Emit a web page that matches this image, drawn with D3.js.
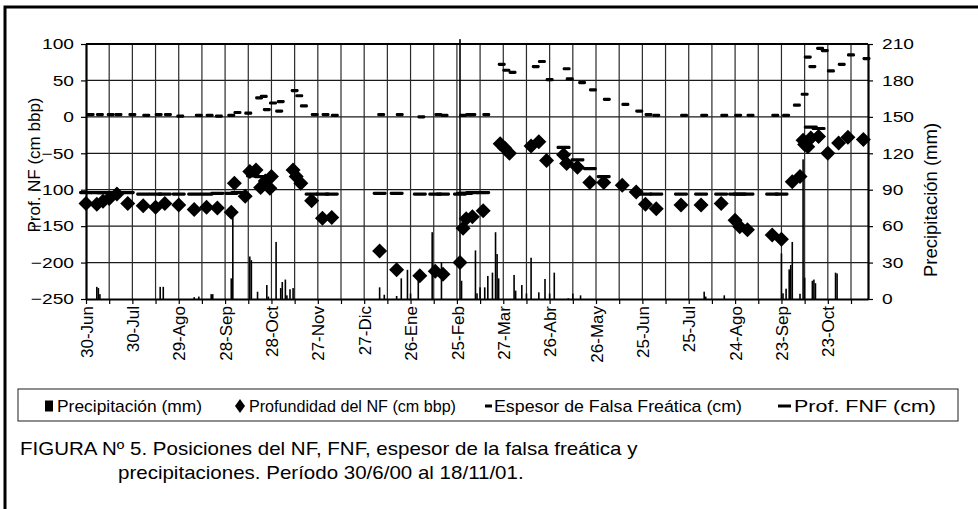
<!DOCTYPE html>
<html><head><meta charset="utf-8">
<script src="https://cdn.jsdelivr.net/npm/d3@7"></script>
<style>
body{margin:0;background:#fff}
svg{display:block;font-family:"Liberation Sans",Arial,sans-serif}
</style>
</head><body>
<svg id="chart" width="978" height="509"></svg>
<script>
// ---------- DATA ----------
const xTickLabels = ["30-Jun","30-Jul","29-Ago","28-Sep","28-Oct","27-Nov","27-Dic","26-Ene","25-Feb","27-Mar","26-Abr","26-May","25-Jun","25-Jul","24-Ago","23-Sep","23-Oct"];
const leftTicks = [100,50,0,-50,-100,-150,-200,-250];
const rightTicks = [210,180,150,120,90,60,30,0];

const precipDates = ["2000-07-07","2000-07-08","2000-07-09","2000-08-17","2000-08-19","2000-09-08","2000-09-11","2000-09-19","2000-09-20","2000-10-02","2000-10-03","2000-10-14","2000-10-15","2000-10-19","2000-10-25","2000-10-26","2000-10-31","2000-11-03","2000-11-04","2000-11-06","2000-11-07","2000-11-09","2000-11-11","2001-01-06","2001-01-09","2001-01-17","2001-01-20","2001-01-24","2001-01-26","2001-01-31","2001-02-09","2001-02-15","2001-02-27","2001-02-28","2001-03-09","2001-03-10","2001-03-12","2001-03-15","2001-03-17","2001-03-20","2001-03-22","2001-03-23","2001-03-24","2001-04-03","2001-04-04","2001-04-08","2001-04-11","2001-04-14","2001-04-19","2001-04-23","2001-04-26","2001-04-29","2001-05-08","2001-05-11","2001-05-16","2001-08-04","2001-08-05","2001-08-17","2001-09-23","2001-09-24","2001-09-26","2001-09-28","2001-09-29","2001-09-30","2001-10-05","2001-10-07","2001-10-08","2001-10-13","2001-10-14","2001-10-15","2001-10-28","2001-10-29"];
const precipValues = [10,9,4,10,10,1.5,2,4,4,17,72,35,32,6,11.5,2,47,9,14,16,3,8,9,9.6,3.5,2.5,17,24,4.5,15.6,55,30.5,214,15,40,4.7,9.6,9.6,19,21.7,55,37,17,19.8,6.9,11.5,4.5,34,5.5,16.5,4.5,21.7,0.6,4.5,3,6,2,3,37.5,4.7,8.5,24.4,28,47,4.3,115,17.5,15,16,13,21.7,21];

const nfDates = ["2000-06-30","2000-07-07","2000-07-11","2000-07-15","2000-07-20","2000-07-27","2000-08-06","2000-08-14","2000-08-20","2000-08-29","2000-09-08","2000-09-16","2000-09-23","2000-10-02","2000-10-04","2000-10-11","2000-10-14","2000-10-18","2000-10-21","2000-10-24","2000-10-27","2000-10-28","2000-11-11","2000-11-13","2000-11-16","2000-11-23","2000-11-30","2000-12-06","2001-01-06","2001-01-17","2001-02-01","2001-02-11","2001-02-16","2001-02-27","2001-03-01","2001-03-03","2001-03-07","2001-03-14","2001-03-25","2001-03-28","2001-03-31","2001-04-14","2001-04-19","2001-04-24","2001-05-05","2001-05-07","2001-05-14","2001-05-22","2001-05-31","2001-06-12","2001-06-21","2001-06-27","2001-07-04","2001-07-20","2001-08-02","2001-08-15","2001-08-24","2001-08-27","2001-09-01","2001-09-17","2001-09-23","2001-09-30","2001-10-05","2001-10-07","2001-10-08","2001-10-10","2001-10-12","2001-10-17","2001-10-23","2001-10-30","2001-11-05","2001-11-15"];
const nfValues = [-119,-120,-116,-112,-106,-119,-122,-124,-119,-121,-127,-124,-125,-131,-91,-109,-75,-73,-97,-88,-98,-82,-73,-82,-91,-115,-139,-138,-184,-210,-218,-212,-216,-200,-153,-140,-137,-129,-37,-43,-50,-40,-34,-60,-52,-64,-69,-90,-90,-94,-103,-120,-126,-121,-121,-119,-142,-151,-155,-162,-168,-89,-82,-32,-38,-41,-29,-27,-50,-36,-28,-31];

const espesorDates = ["2000-07-03","2000-07-09","2000-07-16","2000-07-21","2000-07-30","2000-08-08","2000-08-16","2000-08-22","2000-08-30","2000-09-11","2000-09-18","2000-09-24","2000-10-02","2000-10-06","2000-10-13","2000-10-20","2000-10-23","2000-10-25","2000-10-29","2000-11-02","2000-11-03","2000-11-12","2000-11-15","2000-11-18","2000-11-25","2000-12-02","2000-12-08","2001-01-07","2001-01-19","2001-02-02","2001-02-13","2001-02-17","2001-03-01","2001-03-05","2001-03-07","2001-03-16","2001-03-26","2001-03-29","2001-04-02","2001-04-17","2001-04-21","2001-04-26","2001-05-07","2001-05-09","2001-05-17","2001-05-24","2001-06-02","2001-06-14","2001-06-23","2001-06-29","2001-07-04","2001-07-22","2001-08-04","2001-08-17","2001-08-26","2001-09-03","2001-09-19","2001-09-26","2001-10-03","2001-10-08","2001-10-10","2001-10-13","2001-10-18","2001-10-21","2001-10-25","2001-11-01","2001-11-07","2001-11-17"];
const espesorValues = [3,3,3,3,3,2,3,3,1,2,2,1,2,6,5,26,28,10,19,8,21,36,29,15,3,3,2,3,3,0,3,2,2,3,3,3,72,64,61,69,76,51,66,52,47,37,24,17,8,3,2,2,2,2,2,2,2,2,16,31,82,69,94,91,63,72,85,80];

const fnfDates = ["2000-06-30","2000-07-07","2000-07-11","2000-07-15","2000-07-20","2000-07-27","2000-08-06","2000-08-14","2000-08-20","2000-08-29","2000-09-08","2000-09-16","2000-09-23","2000-10-02","2000-10-06","2000-10-16","2000-10-21","2000-11-23","2000-11-30","2000-12-06","2001-01-06","2001-01-17","2001-02-01","2001-02-11","2001-02-16","2001-02-27","2001-03-01","2001-03-03","2001-03-07","2001-03-14","2001-05-05","2001-05-14","2001-05-22","2001-05-31","2001-06-27","2001-07-04","2001-07-20","2001-08-02","2001-08-15","2001-08-24","2001-08-27","2001-09-01","2001-09-17","2001-09-23","2001-10-12","2001-10-17"];
const fnfValues = [-104,-104,-104,-104,-104,-104,-106,-106,-106,-106,-106,-106,-105,-105,-104,-81,-82,-106,-106,-106,-105,-105,-106,-106,-106,-106,-105,-105,-104,-104,-42,-59,-71,-82,-106,-106,-106,-106,-106,-106,-106,-106,-106,-106,-14,-16];

const legendLabels = ["Precipitación (mm)","Profundidad del NF (cm bbp)","Espesor de Falsa Freática (cm)","Prof. FNF (cm)"];
const captionLines = ["FIGURA Nº 5. Posiciones del NF, FNF, espesor de la falsa freática y","precipitaciones. Período 30/6/00 al 18/11/01."];

// ---------- CHART ----------
const svg = d3.select("#chart");
const parse = d3.utcParse("%Y-%m-%d");
const P = {l:86, r:868, t:44, b:299};
const startDate = parse("2000-06-30"), endDate = parse("2001-11-18");

const x = d3.scaleUtc().domain([startDate, endDate]).range([P.l, P.r]);
const yL = d3.scaleLinear().domain([-250, 100]).range([P.b, P.t]);
const yR = d3.scaleLinear().domain([0, 210]).range([P.b, P.t]);

const xTickDates = d3.range(0, 34).map(i => d3.utcDay.offset(startDate, 15 * i));
const SX = 1.28; // horizontal stretch of the original picture's text

svg.append("rect").attr("width",978).attr("height",509).attr("fill","#fff");

// outer frame
svg.append("path").attr("d","M5,509V7H978").attr("fill","none").attr("stroke","#000").attr("stroke-width",3);

// gridlines
const grid = svg.append("g");
grid.selectAll(".hg").data(leftTicks.filter(v => v > -250 && v < 100)).join("line")
  .attr("x1",P.l).attr("x2",P.r).attr("y1",d=>yL(d)).attr("y2",d=>yL(d))
  .attr("stroke","#1a1a1a").attr("stroke-width",1.2);
grid.selectAll(".vg").data(xTickDates.slice(1)).join("line")
  .attr("x1",d=>x(d)).attr("x2",d=>x(d)).attr("y1",P.t).attr("y2",P.b)
  .attr("stroke","#2a2a2a").attr("stroke-width",1.2);

// precipitation bars
const precip = precipDates.map((d,i)=>({date:parse(d), v:precipValues[i]}));
svg.append("g").selectAll("rect").data(precip).join("rect")
  .attr("x", d => x(d.date) - 0.8).attr("width", 1.6)
  .attr("y", d => yR(d.v)).attr("height", d => yR(0) - yR(d.v))
  .attr("fill","#000");

// NF diamonds
const nf = nfDates.map((d,i)=>({date:parse(d), v:nfValues[i]}));
svg.append("g").selectAll("path").data(nf).join("path")
  .attr("d", d => { const cx = x(d.date), cy = yL(d.v); return `M${cx},${cy-7.5}L${cx+7.5},${cy}L${cx},${cy+7.5}L${cx-7.5},${cy}Z`; })
  .attr("fill","#000");

// Espesor short dashes
const esp = espesorDates.map((d,i)=>({date:parse(d), v:espesorValues[i]}));
svg.append("g").selectAll("rect").data(esp).join("rect")
  .attr("x", d => x(d.date) - 4).attr("width", 8)
  .attr("y", d => yL(d.v) - 1.6).attr("height", 3.2).attr("rx",1.4)
  .attr("fill","#000");

// Prof FNF long dashes
const fnf = fnfDates.map((d,i)=>({date:parse(d), v:fnfValues[i]}));
svg.append("g").selectAll("rect").data(fnf).join("rect")
  .attr("x", d => x(d.date) - 7).attr("width", 14)
  .attr("y", d => yL(d.v) - 1.6).attr("height", 3.2).attr("rx",1.4)
  .attr("fill","#000");

// axes
const axL = svg.append("g").attr("transform",`translate(${P.l},0)`)
  .call(d3.axisLeft(yL).tickValues(leftTicks).tickSize(5).tickSizeOuter(0));
const axR = svg.append("g").attr("transform",`translate(${P.r},0)`)
  .call(d3.axisRight(yR).tickValues(rightTicks).tickSize(5).tickSizeOuter(0));
const axB = svg.append("g").attr("transform",`translate(0,${P.b})`)
  .call(d3.axisBottom(x).tickValues(xTickDates).tickSize(5).tickSizeOuter(0)
    .tickFormat((d,i) => i % 2 === 0 ? xTickLabels[i/2] : ""));
[axL, axR, axB].forEach(a => {
  a.select(".domain").attr("stroke","#000").attr("stroke-width",2.2);
  a.selectAll(".tick line").attr("stroke","#000").attr("stroke-width",1.2);
  a.selectAll("text").attr("fill","#000").style("font-family",'"Liberation Sans",Arial,sans-serif');
});
axL.selectAll("text").style("font-size","15px")
  .attr("x", -12 / SX).attr("transform", `scale(${SX},1)`);
axR.selectAll("text").style("font-size","15px")
  .attr("x", 14 / SX).attr("transform", `scale(${SX},1)`);
axB.selectAll("text").style("font-size","17px")
  .attr("transform","rotate(-90)").attr("text-anchor","end")
  .attr("x",-7).attr("y",0).attr("dy","0.36em");
// top border of plot
svg.append("line").attr("x1",P.l).attr("x2",P.r).attr("y1",P.t).attr("y2",P.t)
  .attr("stroke","#000").attr("stroke-width",2.2);

// axis titles
svg.append("text").attr("transform",`translate(40,${165}) rotate(-90)`)
  .attr("text-anchor","middle").style("font-size","17px").text("Prof. NF (cm bbp)");
svg.append("text").attr("transform",`translate(937,200) rotate(-90)`)
  .attr("text-anchor","middle").style("font-size","18.5px").text("Precipitación (mm)");

// legend
const lg = svg.append("g");
lg.append("rect").attr("x",18).attr("y",389).attr("width",940).attr("height",32)
  .attr("fill","#fff").attr("stroke","#444").attr("stroke-width",1.2);
const ly = 406;
const legendFont = "17px";
lg.append("rect").attr("x",45).attr("y",ly-5.5).attr("width",8).attr("height",11).attr("fill","#000");
lg.append("text").attr("x",57).attr("y",ly+6).style("font-size",legendFont)
  .attr("textLength",145).attr("lengthAdjust","spacingAndGlyphs").text(legendLabels[0]);
lg.append("path").attr("d",`M240,${ly-7}L245,${ly}L240,${ly+7}L235,${ly}Z`).attr("fill","#000");
lg.append("text").attr("x",249).attr("y",ly+6).style("font-size",legendFont)
  .attr("textLength",207).attr("lengthAdjust","spacingAndGlyphs").text(legendLabels[1]);
lg.append("rect").attr("x",485).attr("y",ly-1.5).attr("width",7).attr("height",3).attr("fill","#000");
lg.append("text").attr("x",494).attr("y",ly+6).style("font-size",legendFont)
  .attr("textLength",248).attr("lengthAdjust","spacingAndGlyphs").text(legendLabels[2]);
lg.append("rect").attr("x",778).attr("y",ly-1.5).attr("width",13).attr("height",3).attr("fill","#000");
lg.append("text").attr("x",794).attr("y",ly+6).style("font-size",legendFont)
  .attr("textLength",142).attr("lengthAdjust","spacingAndGlyphs").text(legendLabels[3]);

// caption
const CS = 1.14;
svg.append("text").attr("x",20 / CS).attr("y",455).attr("transform",`scale(${CS},1)`)
  .style("font-size","18px").text(captionLines[0]);
svg.append("text").attr("x",118 / CS).attr("y",479).attr("transform",`scale(${CS},1)`)
  .style("font-size","18px").text(captionLines[1]);
</script>
</body></html>
